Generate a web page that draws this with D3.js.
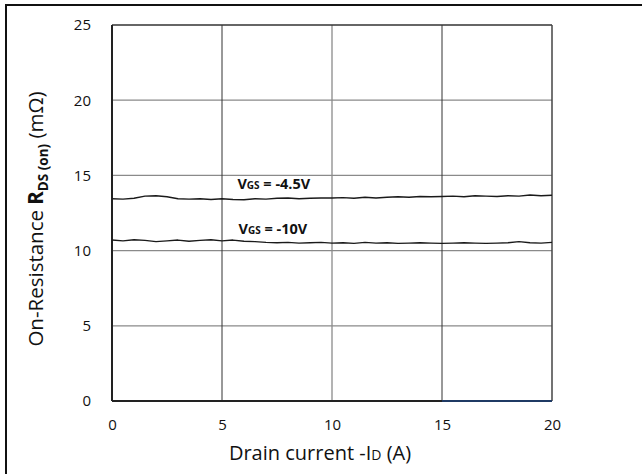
<!DOCTYPE html>
<html>
<head>
<meta charset="utf-8">
<script src="https://cdn.jsdelivr.net/npm/d3@7"></script>
<style>
  html, body { margin: 0; padding: 0; background: #fff; }
  svg { display: block; }
</style>
</head>
<body>
<svg id="chart" width="642" height="474"></svg>
<script>
// ---- data ----
const current = d3.range(0, 20.001, 0.5);
const vgs45 = [13.45,13.42,13.48,13.62,13.65,13.58,13.45,13.42,13.45,13.40,13.45,13.40,13.38,13.45,13.42,13.48,13.50,13.45,13.48,13.50,13.50,13.52,13.48,13.55,13.50,13.55,13.58,13.55,13.60,13.58,13.60,13.62,13.58,13.65,13.62,13.60,13.65,13.62,13.70,13.65,13.68];
const vgs10 = [10.70,10.65,10.72,10.68,10.60,10.65,10.70,10.62,10.68,10.72,10.65,10.70,10.62,10.60,10.55,10.52,10.55,10.50,10.52,10.55,10.50,10.52,10.48,10.55,10.50,10.52,10.48,10.50,10.52,10.50,10.48,10.50,10.52,10.50,10.48,10.50,10.52,10.60,10.52,10.50,10.55];
const xTicks = [0, 5, 10, 15, 20];
const yTicks = [0, 5, 10, 15, 20, 25];
const seriesLabels = [
  { name: "-4.5V", x: 5.7, y: 14.1, values: vgs45 },
  { name: "-10V", x: 5.75, y: 11.1, values: vgs10 }
];

// ---- layout ----
const svg = d3.select("#chart");
const L = 112, R = 552, T = 25, B = 401;
const x = d3.scaleLinear().domain([0, 20]).range([L, R]);
const y = d3.scaleLinear().domain([0, 25]).range([B, T]);
const font = "'Open Sans', 'Noto Sans', sans-serif";

// outer frame
svg.append("path").attr("d", `M6,474 V5 H642`).attr("fill", "none")
  .attr("stroke", "#111").attr("stroke-width", 2);

// gridlines
svg.append("g").selectAll("line").data(yTicks.slice(1, -1)).join("line")
  .attr("x1", L).attr("x2", R).attr("y1", d => y(d)).attr("y2", d => y(d))
  .attr("stroke", "#8a8a8a").attr("stroke-width", 1.3);
svg.append("g").selectAll("line").data(xTicks.slice(1, -1)).join("line")
  .attr("x1", d => x(d)).attr("x2", d => x(d)).attr("y1", T).attr("y2", B)
  .attr("stroke", (d, i) => i === 1 ? "#8a8a8a" : "#333").attr("stroke-width", (d, i) => i === 1 ? 1.3 : 1);

// plot border
svg.append("line").attr("x1", L).attr("x2", R).attr("y1", T).attr("y2", T).attr("stroke", "#333").attr("stroke-width", 1.5);
svg.append("line").attr("x1", R).attr("x2", R).attr("y1", T).attr("y2", B).attr("stroke", "#444").attr("stroke-width", 1.5);
svg.append("line").attr("x1", L).attr("x2", L).attr("y1", T).attr("y2", B).attr("stroke", "#222").attr("stroke-width", 2);
svg.append("line").attr("x1", L).attr("x2", x(15)).attr("y1", B).attr("y2", B).attr("stroke", "#222").attr("stroke-width", 2);
svg.append("line").attr("x1", x(15)).attr("x2", R).attr("y1", B).attr("y2", B).attr("stroke", "#1f3a64").attr("stroke-width", 2);

// axes tick labels (via d3 axes, domain & ticks hidden)
const xAxis = d3.axisBottom(x).tickValues(xTicks).tickSize(0).tickPadding(18).tickFormat(d3.format("d"));
const gx = svg.append("g").attr("transform", `translate(0,${B})`).call(xAxis);
gx.select(".domain").remove();
gx.selectAll("text").attr("font-family", font).attr("font-size", 15).attr("fill", "#111");

const yAxis = d3.axisLeft(y).tickValues(yTicks).tickSize(0).tickPadding(21).tickFormat(d3.format("d"));
const gy = svg.append("g").attr("transform", `translate(${L},0)`).call(yAxis);
gy.select(".domain").remove();
gy.selectAll("text").attr("font-family", font).attr("font-size", 15).attr("fill", "#111");

// lines
const line = d3.line().x((d, i) => x(current[i])).y(d => y(d)).curve(d3.curveLinear);
svg.append("g").selectAll("path").data(seriesLabels).join("path")
  .attr("d", d => line(d.values)).attr("fill", "none").attr("stroke", "#1a1a1a").attr("stroke-width", 1.4)
  .attr("stroke-linejoin", "round");

// series labels
const lbl = svg.append("g").selectAll("text").data(seriesLabels).join("text")
  .attr("x", d => x(d.x)).attr("y", d => y(d.y))
  .attr("font-family", font).attr("font-weight", "bold").attr("font-size", 14.5).attr("fill", "#111");
lbl.append("tspan").text("V");
lbl.append("tspan").attr("font-size", 10).text("GS");
lbl.append("tspan").text(d => " = " + d.name);

// x label
const xl = svg.append("text").attr("x", 320).attr("y", 460).attr("text-anchor", "middle")
  .attr("font-family", font).attr("font-size", 20).attr("fill", "#111");
xl.append("tspan").text("Drain current -I");
xl.append("tspan").attr("font-size", 14).text("D");
xl.append("tspan").text(" (A)");

// y label
const yl = svg.append("text").attr("transform", "translate(43,219) rotate(-90)").attr("text-anchor", "middle")
  .attr("font-family", font).attr("font-size", 20.5).attr("fill", "#111");
yl.append("tspan").text("On-Resistance ");
yl.append("tspan").attr("font-weight", "bold").text("R");
yl.append("tspan").attr("font-weight", "bold").attr("font-size", 13.5).attr("dy", 5).text("DS (on)");
yl.append("tspan").attr("dy", -5).text(" (mΩ)");
</script>
</body>
</html>
